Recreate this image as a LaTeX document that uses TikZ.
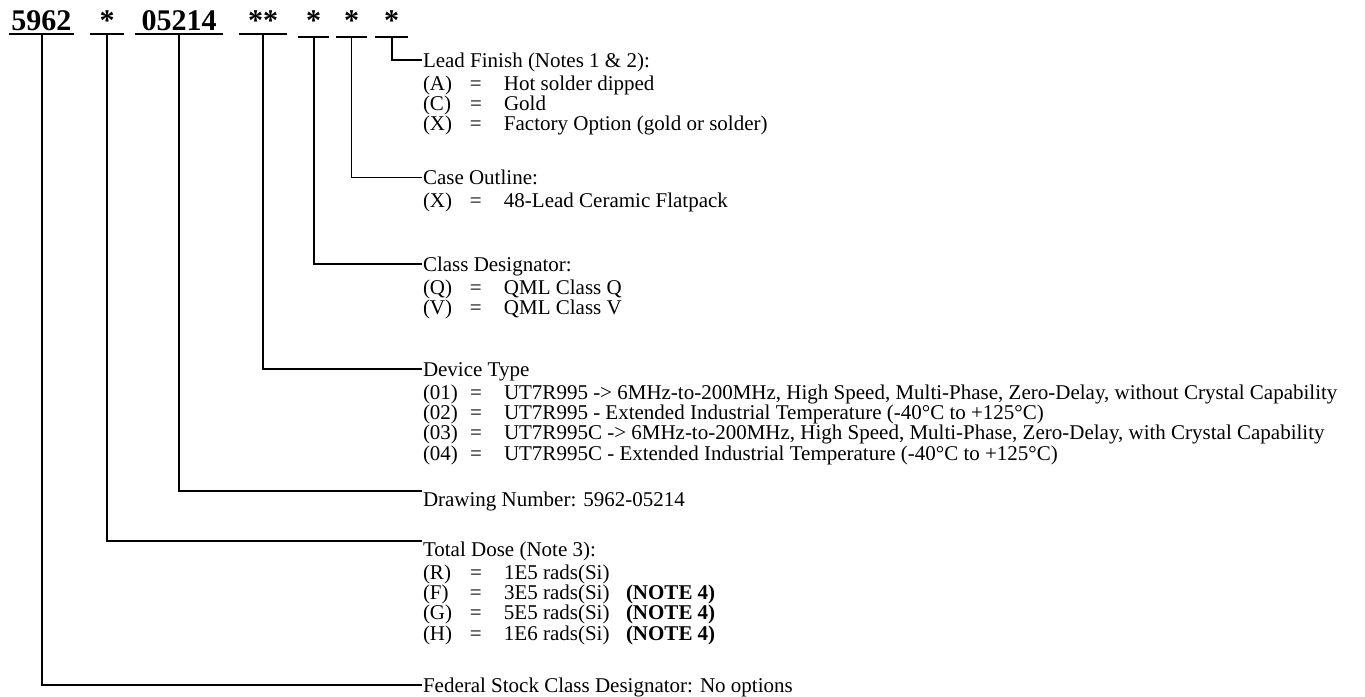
\documentclass[tikz,border=0pt]{standalone}
\usepackage{fontspec}
\setmainfont{Liberation Serif}
\usetikzlibrary{positioning}

\newcommand{\optline}[2]{\rule{0pt}{15pt}\makebox[47pt][l]{#1}\makebox[34pt][l]{=}#2}
\newcommand{\noteline}[3]{\optline{#1}{\makebox[122pt][l]{#2}\textbf{#3}}}

\begin{document}
\begin{tikzpicture}[x=1pt,y=-1pt,line width=2pt,
    fld/.style={anchor=south,inner xsep=0pt,inner ysep=0pt,text depth=3pt,font=\fontsize{30}{31}\selectfont\bfseries},
    fldlow/.style={fld,text depth=6pt},
    ttl/.style={anchor=base west,inner sep=0pt,text height=13.9pt,text depth=0pt,font=\fontsize{21}{20.4}\selectfont},
    opts/.style={inner sep=0pt,align=left,font=\fontsize{21}{20.4}\selectfont}]

  \useasboundingbox (0,0) rectangle (1365,696);

  % part number fields
  \node[fld,minimum width=63pt] (fFsc) at (41.5,34) {5962};
  \node[fld,minimum width=32pt] (fDose) at (107,34) {*};
  \node[fld,minimum width=86pt] (fDwg) at (179,34) {05214};
  \node[fld,minimum width=46pt] (fDev) at (263,34) {**};
  \node[fldlow,minimum width=29pt] (fCls) at (313.5,37) {*};
  \node[fldlow,minimum width=29pt] (fCase) at (351.5,37) {*};
  \node[fldlow,minimum width=31pt] (fLead) at (391.5,37) {*};

  \foreach \f in {fFsc,fDose,fDwg,fDev,fCls,fCase,fLead}
    \draw (\f.south west) -- (\f.south east);

  % descriptions
  \node[ttl] (tLead) at (422,67) {Lead Finish (Notes 1 \& 2):};
  \node[opts,below=6pt of tLead.south west,anchor=north west] (oLead)
    {\optline{(A)}{Hot solder dipped}\\
     \optline{(C)}{Gold}\\
     \optline{(X)}{Factory Option (gold or solder)}};

  \node[ttl] (tCase) at (422,184) {Case Outline:};
  \node[opts,below=6pt of tCase.south west,anchor=north west] (oCase)
    {\optline{(X)}{48-Lead Ceramic Flatpack}};

  \node[ttl] (tCls) at (422,271) {Class Designator:};
  \node[opts,below=6pt of tCls.south west,anchor=north west] (oCls)
    {\optline{(Q)}{QML Class Q}\\
     \optline{(V)}{QML Class V}};

  \node[ttl] (tDev) at (422,376) {Device Type};
  \node[opts,below=6pt of tDev.south west,anchor=north west] (oDev)
    {\optline{(01)}{UT7R995 -> 6MHz-to-200MHz, High Speed, Multi-Phase, Zero-Delay, without Crystal Capability}\\
     \optline{(02)}{UT7R995 - Extended Industrial Temperature (-40°C to +125°C)}\\
     \optline{(03)}{UT7R995C -> 6MHz-to-200MHz, High Speed, Multi-Phase, Zero-Delay, with Crystal Capability}\\
     \optline{(04)}{UT7R995C - Extended Industrial Temperature (-40°C to +125°C)}};

  \node[ttl] (tDwg) at (422,506) {Drawing Number: 5962-05214};

  \node[ttl] (tDose) at (422,556) {Total Dose (Note 3):};
  \node[opts,below=6pt of tDose.south west,anchor=north west] (oDose)
    {\optline{(R)}{1E5 rads(Si)}\\
     \noteline{(F)}{3E5 rads(Si)}{(NOTE 4)}\\
     \noteline{(G)}{5E5 rads(Si)}{(NOTE 4)}\\
     \noteline{(H)}{1E6 rads(Si)}{(NOTE 4)}};

  \node[ttl] (tFsc) at (422,692) {Federal Stock Class Designator: No options};

  % leaders
  \draw (fLead.south) |- (tLead.west);
  \draw[line width=1pt] (fCase.south) |- (tCase.west);
  \draw (fCls.south) |- (tCls.west);
  \draw (fDev.south) |- (tDev.west);
  \draw (fDwg.south) |- (tDwg.north west);
  \draw (fDose.south) |- (tDose.north west);
  \draw (fFsc.south) |- (tFsc.west);
\end{tikzpicture}
\end{document}
